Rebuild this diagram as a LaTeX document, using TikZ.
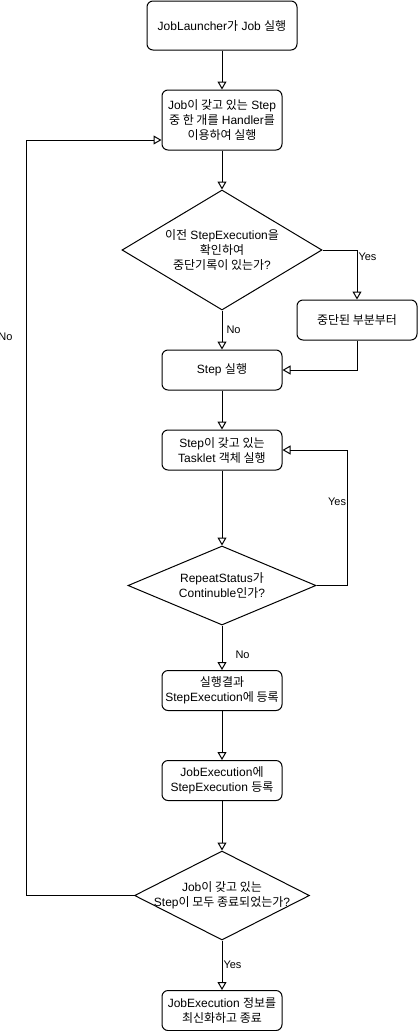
\documentclass[tikz,border=0pt]{standalone}
\usepackage{fontspec}
\setmainfont{Liberation Sans}
\newfontfamily\krfont{Noto Sans CJK KR}
\newcommand{\ko}[1]{{\krfont #1}}
\usetikzlibrary{arrows.meta,shapes.geometric}
\tikzset{
  >={Triangle[open,length=8pt,width=9pt]},
  pr/.style={rectangle,draw,rounded corners=6pt,minimum width=120pt,minimum height=40pt,align=center,inner sep=1pt,font=\fontsize{12}{15}\selectfont},
  dc/.style={diamond,draw,inner xsep=-50pt,inner ysep=-20pt,align=center,font=\fontsize{12}{15}\selectfont},
  lb/.style={font=\fontsize{11}{13}\selectfont,inner sep=1pt},
  every picture/.style={line width=1pt},
}
\begin{document}
\begin{tikzpicture}[x=1pt,y=-1pt]
\useasboundingbox (0,0) rectangle (418,1031);
\node[pr,minimum width=150pt,minimum height=49pt] (st) at (222,25.5){JobLauncher\ko{가} Job \ko{실행}};
\node[pr,minimum height=60pt] (hd) at (222,120){Job\ko{이 갖고 있는} Step\\\ko{중 한 개를} Handler\ko{를}\\\ko{이용하여 실행}};
\node[dc,minimum width=200pt,minimum height=120pt] (ck) at (222,250){\ko{이전} StepExecution\ko{을}\\\ko{확인하여}\\\ko{중단기록이 있는가}?};
\node[pr] (rs) at (357,320){\ko{중단된 부분부터}};
\node[pr] (ex) at (222,370){Step \ko{실행}};
\node[pr] (tk) at (222,450){Step\ko{이 갖고 있는}\\Tasklet \ko{객체 실행}};
\node[dc,minimum width=188pt,minimum height=79pt] (rp) at (222,585.5){RepeatStatus\ko{가}\\Continuble\ko{인가}?};
\node[pr] (sr) at (222,690.5){\ko{실행결과}\\StepExecution\ko{에 등록}};
\node[pr] (jr) at (222,780.5){JobExecution\ko{에}\\StepExecution \ko{등록}};
\node[dc,minimum width=175pt,minimum height=89pt] (dn) at (222,895.5){Job\ko{이 갖고 있는}\\Step\ko{이 모두 종료되었는가}?};
\node[pr] (en) at (222,1010.5){JobExecution \ko{정보를}\\\ko{최신화하고 종료}};
\draw[->] (st)--(hd); \draw[->] (hd)--(ck);
\draw[->] (ck.east) -| node[lb,pos=0.57,anchor=west]{Yes} (rs.north);
\draw[->] (ck)--node[lb,right=3pt]{No}(ex);
\draw[->] (rs.south) |- (ex.east);
\draw[->] (ex)--(tk); \draw[->] (tk)--(rp);
\draw[->] (rp.east) -- ++(31,0) |- node[lb,pos=0.31,anchor=east]{Yes} (tk.east);
\draw[->] (rp)--node[lb,pos=0.65,right=12pt]{No}(sr);
\draw[->] (sr)--(jr); \draw[->] (jr)--(dn);
\draw[->] (dn.west) -- ++(-108,0) |- node[lb,pos=0.37,left=12pt]{No} ([yshift=-20pt]hd.west);
\draw[->] (dn)--node[lb,anchor=west]{Yes}(en);
\end{tikzpicture}
\end{document}
